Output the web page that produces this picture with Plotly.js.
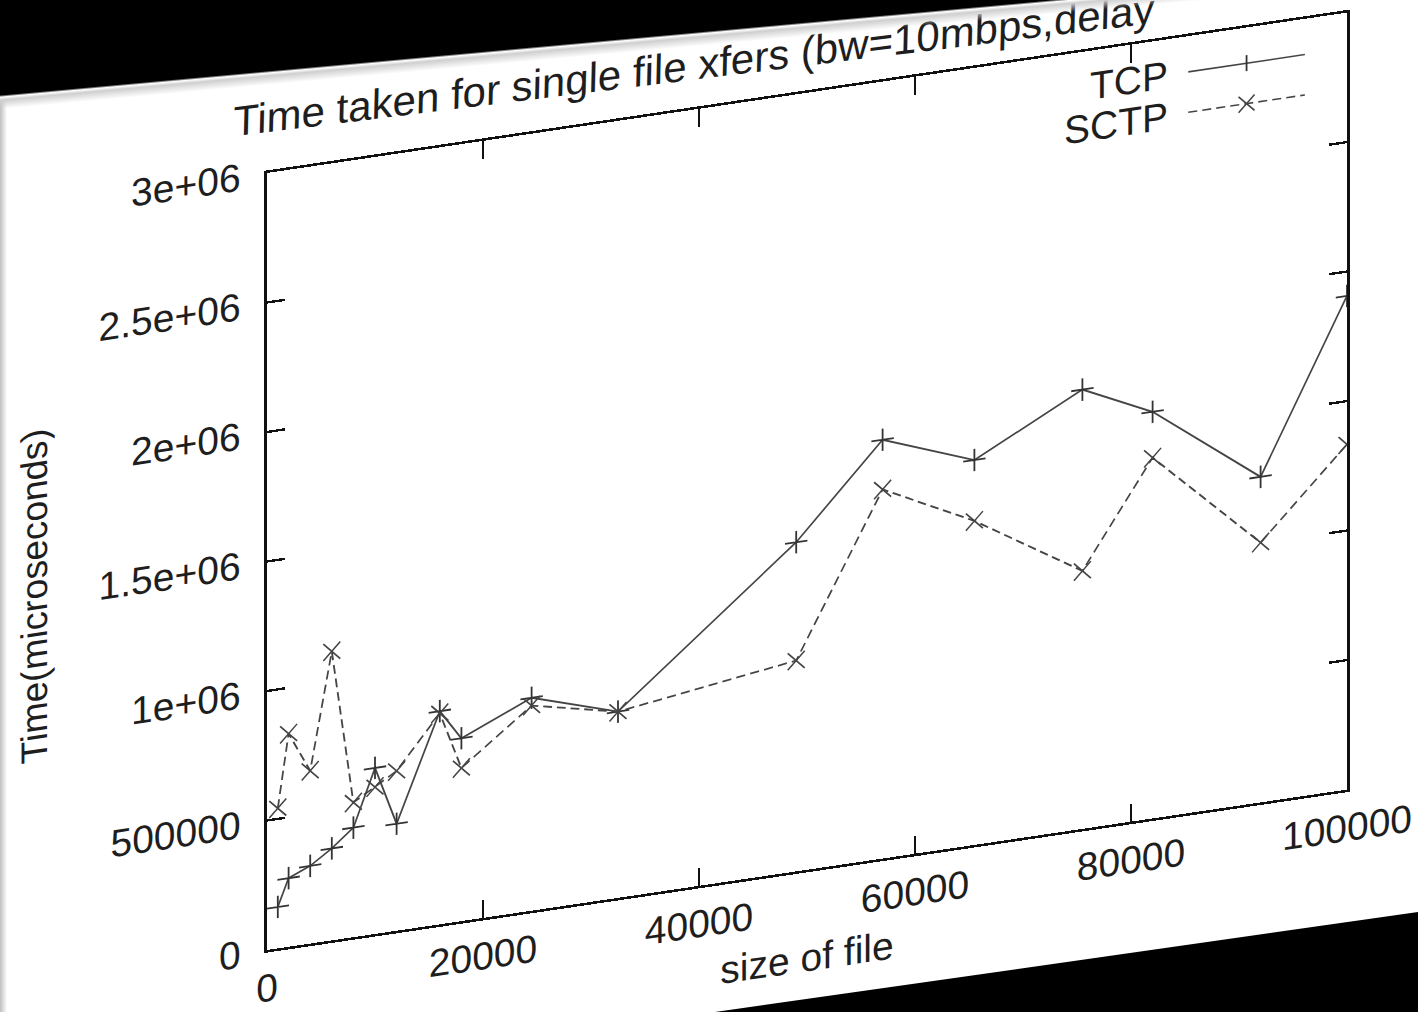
<!DOCTYPE html>
<html>
<head>
<meta charset="utf-8">
<script src="https://cdn.plot.ly/plotly-3.0.1.min.js"></script>
<style>
  html, body { margin:0; padding:0; background:#fff; width:1418px; height:1012px; overflow:hidden; }
  #wrap { position:relative; width:1418px; height:1012px; overflow:hidden; background:#fff; }
  #chart { position:absolute; left:0; top:0; width:1418px; height:1100px;
           transform-origin:267px 0; transform:skewY(-8.45deg); }
  #wedge { position:absolute; left:-50px; top:-61.1px; width:1700px; height:200px;
           transform-origin:0 0; transform:rotate(-5.17deg);
           background:linear-gradient(to bottom, #000 0%, #000 80%, #fff 81%, #cfcfcf 82.5%, rgba(255,255,255,0) 87%); }
  #corner { position:absolute; left:0; top:0; width:1418px; height:1012px; background:#000;
            clip-path:polygon(715px 1012px, 1418px 912px, 1418px 1012px); }
  #edge { position:absolute; left:0; top:0; width:7px; height:1012px;
          background:linear-gradient(to right, #bfbfbf, rgba(255,255,255,0)); }
</style>
</head>
<body>
<div id="wrap">
  <div id="chart"></div>
  <div id="edge"></div>
  <div id="wedge"></div>
  <div id="corner"></div>
</div>
<script>
// ---- data ----
const fileSize = [1000, 2000, 4000, 6000, 8000, 10000, 12000, 16000, 18000, 24500, 32500, 49000, 57000, 65500, 75500, 82000, 92000, 100000];
const tcpTime  = [160000, 265000, 300000, 355000, 423000, 641000, 413000, 823000, 706000, 822000, 719000, 1271000, 1617000, 1486000, 1696000, 1570000, 1257000, 1906000];
const sctpTime = [541000, 823000, 667000, 1116000, 520000, 567000, 617000, 815000, 591000, 792000, 719000, 814000, 1425000, 1251000, 996000, 1393000, 1003000, 1333000];
const seriesNames = ['TCP', 'SCTP'];
const xTickVals = [0, 20000, 40000, 60000, 80000, 100000];
const xTickText = ['0', '20000', '40000', '60000', '80000', '100000'];
const yTickVals = [0, 500000, 1000000, 1500000, 2000000, 2500000, 3000000];
const yTickText = ['0', '500000', '1e+06', '1.5e+06', '2e+06', '2.5e+06', '3e+06'];
const chartTitle = 'Time taken for single file xfers (bw=10mbps,delay';
const xTitle = 'size of file';
const yTitle = 'Time(microseconds)';

const FONT = '"Liberation Sans", Arial, Helvetica, sans-serif';
const INK = '#1e1e1e';
const LINE = '#454545';

const traces = [
  { x: fileSize, y: tcpTime, name: seriesNames[0], type: 'scatter', mode: 'lines+markers',
    line: { color: LINE, width: 1.8, dash: 'solid' },
    marker: { symbol: 'cross-thin', size: 16, color: LINE, line: { color: '#333', width: 1.8 } } },
  { x: fileSize, y: sctpTime, name: seriesNames[1], type: 'scatter', mode: 'lines+markers',
    line: { color: LINE, width: 1.8, dash: '9px,5px' },
    marker: { symbol: 'x-thin', size: 17, color: LINE, line: { color: '#444', width: 1.6 } } }
];

// legend drawn gnuplot-style (text on the left, sample on the right)
const lgX0 = 0.853, lgX1 = 0.961, lgXm = 0.907;
const lgY = [0.954, 0.902];
const shapes = [];
const annotations = [];
seriesNames.forEach((nm, i) => {
  annotations.push({ xref:'paper', yref:'paper', x:0.836, y:lgY[i], xanchor:'right', yanchor:'middle',
    text:nm, showarrow:false, font:{ family:FONT, size:39, color:INK } });
  shapes.push({ type:'line', xref:'paper', yref:'paper', x0:lgX0, x1:lgX1, y0:lgY[i], y1:lgY[i],
    line:{ color:LINE, width:1.6, dash: i === 0 ? 'solid' : '9px,5px' } });
});
const dxp = 8/1080, dyp = 8/777;
shapes.push({ type:'line', xref:'paper', yref:'paper', x0:lgXm, x1:lgXm, y0:lgY[0]-dyp, y1:lgY[0]+dyp, line:{ color:'#333', width:1.8 } });
shapes.push({ type:'line', xref:'paper', yref:'paper', x0:lgXm-dxp, x1:lgXm+dxp, y0:lgY[1]-dyp, y1:lgY[1]+dyp, line:{ color:'#444', width:1.6 } });
shapes.push({ type:'line', xref:'paper', yref:'paper', x0:lgXm-dxp, x1:lgXm+dxp, y0:lgY[1]+dyp, y1:lgY[1]-dyp, line:{ color:'#444', width:1.6 } });

// chart title (slightly less slanted than the frame, as in the photo)
annotations.push({ xref:'paper', yref:'paper', x:0.395, y:1.057, xanchor:'center', yanchor:'middle',
  text:chartTitle, showarrow:false, textangle:1.46, font:{ family:FONT, size:42, color:INK } });

const axisCommon = {
  showgrid:false, zeroline:false, showline:true, linecolor:'#111', linewidth:2.6,
  mirror:'allticks', ticks:'inside', ticklen:18, tickwidth:2.4, tickcolor:'#111',
  tickfont:{ family:FONT, size:39, color:INK }
};

const layout = {
  width:1418, height:1100,
  margin:{ l:267, r:71, t:173, b:150, pad:0 },
  paper_bgcolor:'#fff', plot_bgcolor:'#fff',
  showlegend:false,
  xaxis:Object.assign({}, axisCommon, { range:[0, 100000], tickmode:'array', tickvals:xTickVals, ticktext:xTickText,
          ticklabelstandoff:2,
          title:{ text:xTitle, font:{ family:FONT, size:39, color:INK }, standoff:16 } }),
  yaxis:Object.assign({}, axisCommon, { range:[0, 3000000], tickmode:'array', tickvals:yTickVals, ticktext:yTickText,
          ticklabelstandoff:16,
          title:{ text:yTitle, font:{ family:FONT, size:37, color:INK }, standoff:40 } }),
  shapes:shapes, annotations:annotations
};

Plotly.newPlot('chart', traces, layout, { staticPlot:true, displayModeBar:false });
</script>
</body>
</html>
